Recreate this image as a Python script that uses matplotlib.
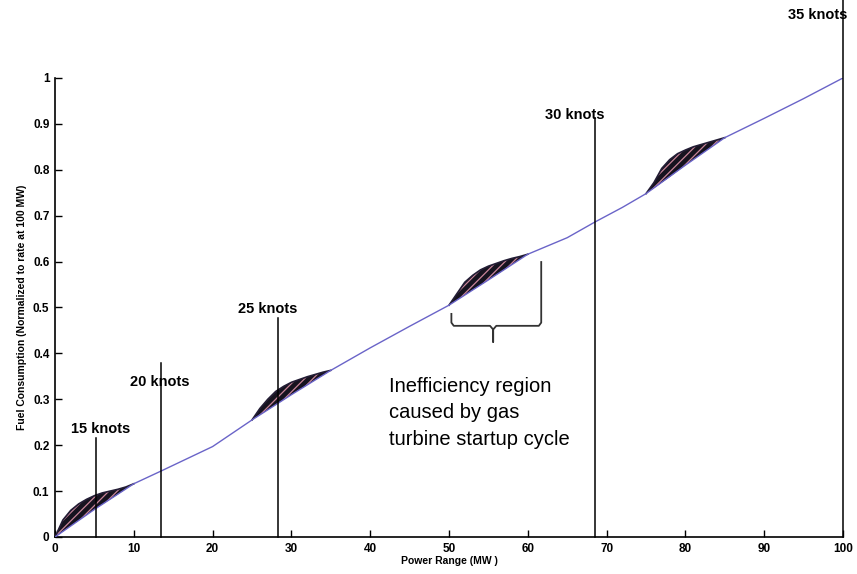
import matplotlib

matplotlib.use("Agg")
import matplotlib.pyplot as plt
import numpy as np

plt.rcParams["font.family"] = ["Liberation Sans", "DejaVu Sans"]
plt.rcParams["hatch.linewidth"] = 0.9

# efficient fuel curve (normalized to the 100 MW rate)
power_mw = [0, 5, 10, 13.5, 20, 25, 30, 35, 40, 45, 50, 55, 60, 65, 68.5, 72, 75, 80, 85, 90, 95, 100]
fuel_rate = [0, 0.06, 0.116, 0.144, 0.197, 0.255, 0.31, 0.363, 0.412, 0.459, 0.505, 0.56, 0.616,
             0.652, 0.686, 0.718, 0.748, 0.81, 0.87, 0.912, 0.955, 1.0]

# gas turbine startup bands: power, lower edge, upper edge
band1_x = [0, 1, 2, 3, 4, 5, 6, 7, 8, 9, 10]
band1_lo = [0, 0.012, 0.024, 0.036, 0.048, 0.06, 0.071, 0.082, 0.093, 0.105, 0.116]
band1_hi = [0, 0.037, 0.058, 0.072, 0.082, 0.09, 0.096, 0.1, 0.104, 0.109, 0.116]

band2_x = [25, 26, 27, 28, 29, 30, 31, 32, 33, 34, 35]
band2_lo = [0.255, 0.266, 0.277, 0.288, 0.299, 0.31, 0.321, 0.331, 0.342, 0.352, 0.363]
band2_hi = [0.255, 0.28, 0.3, 0.317, 0.328, 0.337, 0.343, 0.349, 0.354, 0.359, 0.363]

band3_x = [50, 51, 52, 53, 54, 55, 56, 57, 58, 59, 60]
band3_lo = [0.505, 0.516, 0.527, 0.538, 0.549, 0.56, 0.571, 0.582, 0.594, 0.605, 0.616]
band3_hi = [0.505, 0.53, 0.555, 0.57, 0.582, 0.59, 0.596, 0.602, 0.607, 0.611, 0.616]

band4_x = [75, 76, 77, 78, 79, 80, 81, 82, 83, 84, 85]
band4_lo = [0.748, 0.76, 0.772, 0.784, 0.797, 0.81, 0.822, 0.834, 0.846, 0.858, 0.87]
band4_hi = [0.748, 0.772, 0.803, 0.822, 0.835, 0.843, 0.85, 0.855, 0.86, 0.865, 0.87]

# ship speed markers
speed_labels = ["15 knots", "20 knots", "25 knots", "30 knots", "35 knots"]
speed_power = [5.2, 13.5, 28.3, 68.5, 100]
speed_line_top = [0.216, 0.38, 0.477, 0.913, 1.17]
speed_label_x = [5.8, 13.3, 27.0, 65.9, 96.8]
speed_label_y = [0.235, 0.338, 0.497, 0.919, 1.137]

CURVE_COLOR = "#6a64c8"

fig = plt.figure(figsize=(8.57, 5.74), dpi=100)
ax = fig.add_axes([0.0642, 0.0645, 0.9195, 0.7997])

bands = [(band1_x, band1_lo, band1_hi), (band2_x, band2_lo, band2_hi),
         (band3_x, band3_lo, band3_hi), (band4_x, band4_lo, band4_hi)]
for bx, lo, hi in bands:
    ax.fill_between(bx, lo, hi, facecolor="#16131f", edgecolor="#c98499",
                    hatch="////", linewidth=0, zorder=2)
    ax.plot(bx, hi, color="#231d35", linewidth=1.2, zorder=3)

ax.plot(power_mw, fuel_rate, color=CURVE_COLOR, linewidth=1.0, zorder=4)

for label, px, top, lx, ly in zip(speed_labels, speed_power, speed_line_top,
                                  speed_label_x, speed_label_y):
    ax.plot([px, px], [0, top], color="black", linewidth=1.1, clip_on=False, zorder=5)
    ax.text(lx, ly, label, ha="center", va="center", fontsize=10.5, fontweight="bold",
            clip_on=False, zorder=6)

# curly brace under the 50-60 MW band
brace_x = [50.3, 50.3, 50.6, 55.2, 55.6, 55.6, 55.6, 56.0, 61.4, 61.7, 61.7]
brace_y = [0.486, 0.467, 0.46, 0.46, 0.452, 0.425, 0.452, 0.46, 0.46, 0.467, 0.599]
ax.plot(brace_x, brace_y, color="#333333", linewidth=1.3, zorder=5)

ax.text(42.4, 0.348, "Inefficiency region\ncaused by gas\nturbine startup cycle",
        ha="left", va="top", fontsize=14.5, linespacing=1.48)

ax.set_xlim(0, 100)
ax.set_ylim(0, 1)
ax.set_xticks(np.arange(0, 101, 10))
ax.set_yticks(np.arange(0, 1.01, 0.1))
ax.set_yticklabels(["0", "0.1", "0.2", "0.3", "0.4", "0.5", "0.6", "0.7", "0.8", "0.9", "1"])
ax.tick_params(direction="in", length=5, width=1.0, labelsize=8.5, pad=4)
for lbl in ax.get_xticklabels() + ax.get_yticklabels():
    lbl.set_fontweight("bold")

for side in ["top", "right"]:
    ax.spines[side].set_visible(False)
for side in ["left", "bottom"]:
    ax.spines[side].set_linewidth(1.2)

ax.set_xlabel("Power Range (MW )", fontsize=7.5, fontweight="bold", labelpad=1)
ax.set_ylabel("Fuel Consumption (Normalized to rate at 100 MW)", fontsize=7.5,
              fontweight="bold", labelpad=4)

fig.savefig("out.png", dpi=100)
